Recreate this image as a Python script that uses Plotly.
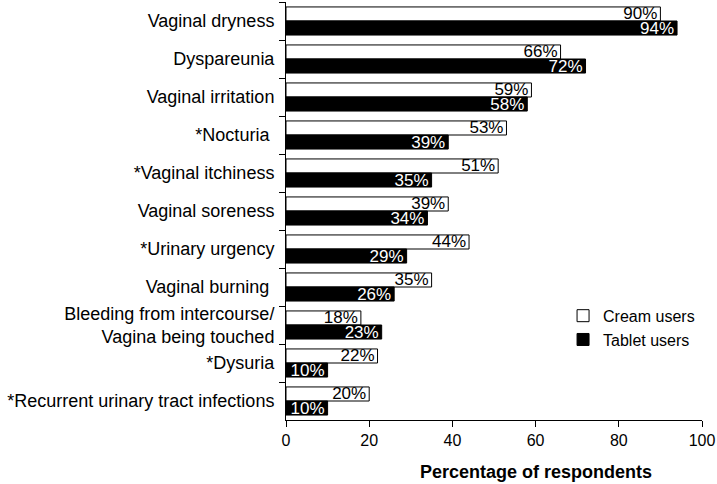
import plotly.graph_objects as go

symptoms = ['Vaginal dryness', 'Dyspareunia', 'Vaginal irritation', '*Nocturia ',
            '*Vaginal itchiness', 'Vaginal soreness', '*Urinary urgency', 'Vaginal burning ',
            'Bleeding from intercourse/<br>Vagina being touched', '*Dysuria',
            '*Recurrent urinary tract infections']
cream = [90, 66, 59, 53, 51, 39, 44, 35, 18, 22, 20]
tablet = [94, 72, 58, 39, 35, 34, 29, 26, 23, 10, 10]

font = 'Liberation Sans, Arial, sans-serif'

fig = go.Figure()
fig.add_trace(go.Bar(y=symptoms, x=cream, orientation='h', name='Cream users',
                     marker=dict(color='white', line=dict(color='black', width=1)),
                     text=[f'{v}%' for v in cream], textposition='inside',
                     insidetextanchor='end', constraintext='none', textangle=0,
                     insidetextfont=dict(color='black', size=17, family=font)))
fig.add_trace(go.Bar(y=symptoms, x=tablet, orientation='h', name='Tablet users',
                     marker=dict(color='black', line=dict(color='black', width=1)),
                     text=[f'{v}%' for v in tablet], textposition='inside',
                     insidetextanchor='end', constraintext='none', textangle=0,
                     insidetextfont=dict(color='white', size=17, family=font)))

fig.update_layout(
    width=717, height=484, barmode='group', bargap=0.26, bargroupgap=0,
    plot_bgcolor='white', paper_bgcolor='white',
    margin=dict(l=286, r=12, t=2, b=64),
    font=dict(family=font, size=16, color='black'),
    legend=dict(x=0.666, y=0.29, xanchor='left', yanchor='top', traceorder='normal',
                font=dict(size=16), bgcolor='rgba(0,0,0,0)'),
    xaxis=dict(range=[0, 100], dtick=20, showgrid=False, zeroline=False,
               showline=True, linecolor='black', linewidth=1,
               ticks='outside', ticklen=6, tickcolor='black',
               tickfont=dict(size=16), ticklabeloverflow='allow'),
    yaxis=dict(autorange='reversed', showgrid=False, showline=True,
               linecolor='black', linewidth=1, ticks='outside', ticklen=6,
               tickcolor='black', tickson='boundaries', tickfont=dict(size=18),
               ticklabelstandoff=7),
    annotations=[dict(text='<b>Percentage of respondents</b>', x=0.6, y=-0.095,
                      xref='paper', yref='paper', xanchor='center', yanchor='top',
                      showarrow=False, font=dict(size=18))],
)

fig.write_html("out.html", config={'displayModeBar': False},
               post_script="document.body.style.margin='0';")
